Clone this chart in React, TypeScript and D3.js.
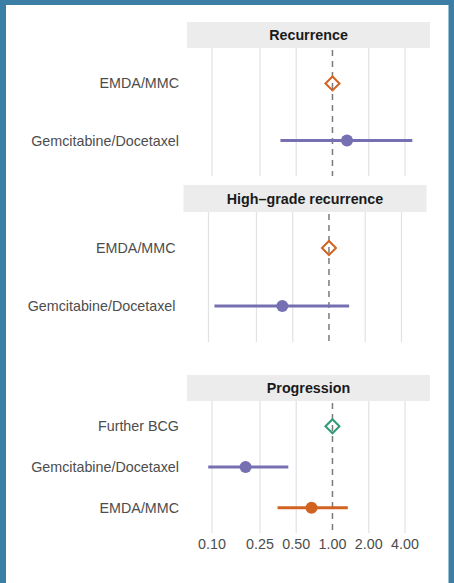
import React from "react";
import * as d3 from "d3";

const W = 454;
const H = 583;

const panelTitles = ["Recurrence", "High\u2013grade recurrence", "Progression"];
const panelRows: string[][] = [
  ["EMDA/MMC", "Gemcitabine/Docetaxel"],
  ["EMDA/MMC", "Gemcitabine/Docetaxel"],
  ["Further BCG", "Gemcitabine/Docetaxel", "EMDA/MMC"],
];
const panelEst: number[][] = [
  [1.0, 1.32],
  [1.0, 0.41],
  [1.0, 0.19, 0.67],
];
const panelLo: (number | null)[][] = [
  [null, 0.37],
  [null, 0.112],
  [null, 0.093, 0.35],
];
const panelHi: (number | null)[][] = [
  [null, 4.6],
  [null, 1.47],
  [null, 0.43, 1.34],
];
const tickValues = [0.1, 0.25, 0.5, 1, 2, 4];
const tickLabels = ["0.10", "0.25", "0.50", "1.00", "2.00", "4.00"];

const treatmentColor: Record<string, string> = {
  "EMDA/MMC": "#d2621f",
  "Gemcitabine/Docetaxel": "#7670b3",
  "Further BCG": "#2f9a74",
};

// layout per panel: header top, plot top, plot bottom, horizontal shift
const layout = [
  { headTop: 22, plotTop: 48, plotBottom: 176, dx: 0 },
  { headTop: 185, plotTop: 212, plotBottom: 342, dx: -3.5 },
  { headTop: 375, plotTop: 401, plotBottom: 533, dx: 0 },
];

const panelLeft = 187;
const panelRight = 430;
const labelX = 179;

const x = d3.scaleLog().domain([0.1, 4]).range([212, 405]);

const font = "'Liberation Sans', Arial, Helvetica, sans-serif";
const fs = 14.3;

export default function App() {
  const diamond = d3.symbol().type(d3.symbolDiamond2).size(125)();
  return (
    <svg
      width={W}
      height={H}
      style={{ position: "absolute", left: 0, top: 0 }}
      fontFamily={font}
    >
      <rect x={0} y={0} width={W} height={H} fill="#3b7ea6" />
      <rect x={6} y={5} width={442.5} height={H - 5} fill="#ffffff" />
      {panelTitles.map((title, i) => {
        const L = layout[i];
        const y = d3
          .scalePoint<string>()
          .domain(panelRows[i])
          .range([L.plotTop, L.plotBottom])
          .padding(0.62);
        return (
          <g key={title} transform={`translate(${L.dx},0)`}>
            <rect
              x={panelLeft}
              y={L.headTop}
              width={panelRight - panelLeft}
              height={L.plotTop - L.headTop}
              fill="#ececec"
            />
            <text
              x={(panelLeft + panelRight) / 2}
              y={(L.headTop + L.plotTop) / 2 + 5}
              textAnchor="middle"
              fontSize={fs}
              fontWeight="bold"
              fill="#1a1a1a"
            >
              {title}
            </text>
            {tickValues.map((t) =>
              t === 1 ? null : (
                <line
                  key={t}
                  x1={x(t)}
                  x2={x(t)}
                  y1={L.plotTop}
                  y2={L.plotBottom}
                  stroke="#e2e2e2"
                  strokeWidth={1.2}
                />
              )
            )}
            <line
              x1={x(1)}
              x2={x(1)}
              y1={L.plotTop + 2}
              y2={L.plotBottom}
              stroke="#7a7a7a"
              strokeWidth={1.5}
              strokeDasharray="6,5"
            />
            {panelRows[i].map((r, j) => {
              const yy = y(r) as number;
              const c = treatmentColor[r];
              const lo = panelLo[i][j];
              const hi = panelHi[i][j];
              return (
                <g key={r}>
                  <text
                    x={labelX}
                    y={yy + 5}
                    textAnchor="end"
                    fontSize={fs}
                    fill="#4d4d4d"
                  >
                    {r}
                  </text>
                  {lo !== null && hi !== null ? (
                    <>
                      <line
                        x1={x(lo)}
                        x2={x(hi)}
                        y1={yy}
                        y2={yy}
                        stroke={c}
                        strokeWidth={3}
                      />
                      <circle cx={x(panelEst[i][j])} cy={yy} r={6} fill={c} />
                    </>
                  ) : (
                    <path
                      d={diamond as string}
                      transform={`translate(${x(panelEst[i][j])},${yy})`}
                      fill="none"
                      stroke={c}
                      strokeWidth={2}
                    />
                  )}
                </g>
              );
            })}
            {i === panelTitles.length - 1 &&
              tickValues.map((t, k) => (
                <text
                  key={t}
                  x={x(t)}
                  y={L.plotBottom + 16}
                  textAnchor="middle"
                  fontSize={fs}
                  fill="#4d4d4d"
                >
                  {tickLabels[k]}
                </text>
              ))}
          </g>
        );
      })}
    </svg>
  );
}
